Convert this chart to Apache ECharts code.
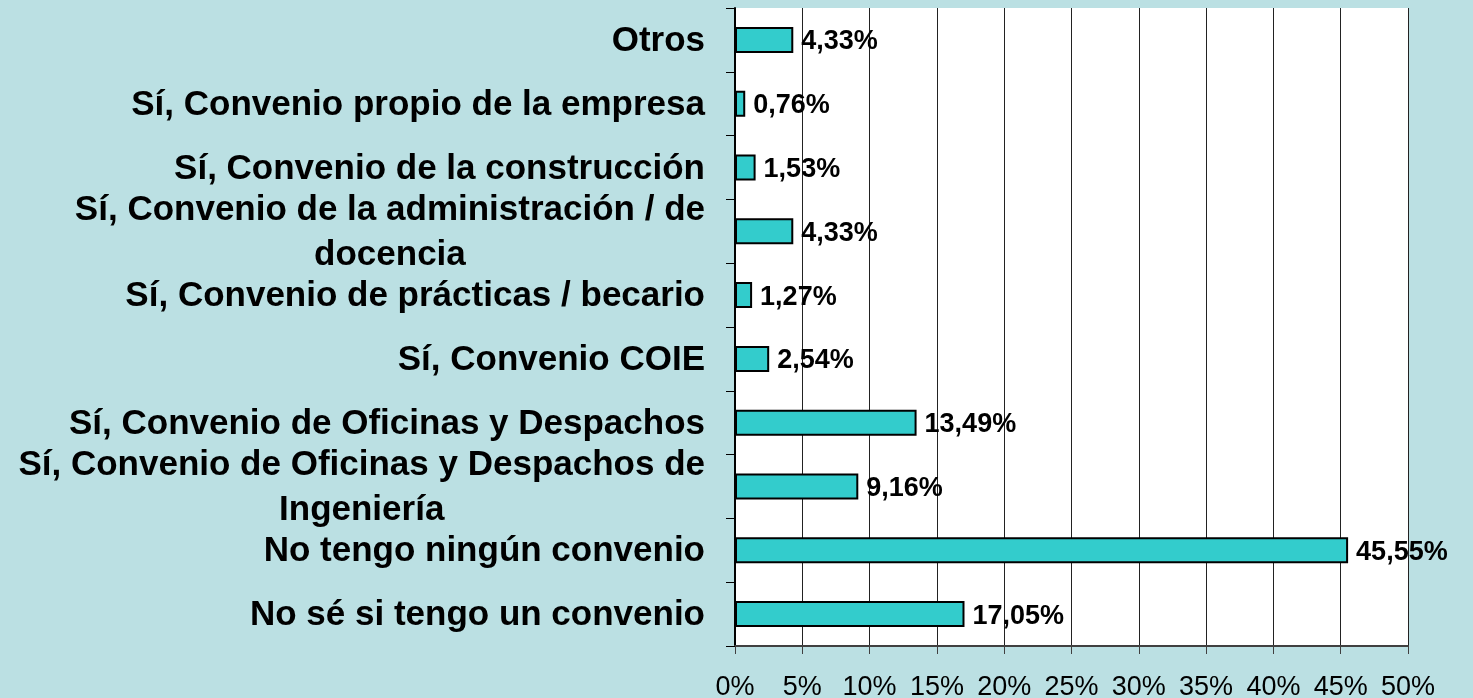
<!DOCTYPE html>
<html>
<head>
<meta charset="utf-8">
<script src="https://cdn.jsdelivr.net/npm/echarts@6/dist/echarts.min.js"></script>
<style>
  html, body { margin: 0; padding: 0; background: #bbe0e3; }
  #chart { width: 1473px; height: 698px; }
</style>
</head>
<body>
<div id="chart"></div>
<script>
// categorias de abajo hacia arriba (eje de categorias de ECharts)
const categories = [
    'No sé si tengo un convenio',
    'No tengo ningún convenio',
    'Sí, Convenio de Oficinas y Despachos de\nIngeniería',
    'Sí, Convenio de Oficinas y Despachos',
    'Sí, Convenio COIE',
    'Sí, Convenio de prácticas / becario',
    'Sí, Convenio de la administración / de\ndocencia',
    'Sí, Convenio de la construcción',
    'Sí, Convenio propio de la empresa',
    'Otros'
];
const percentages = [17.05, 45.55, 9.16, 13.49, 2.54, 1.27, 4.33, 1.53, 0.76, 4.33];
const xTicks = [0, 5, 10, 15, 20, 25, 30, 35, 40, 45, 50];

const font = 'Liberation Sans, Arial, sans-serif';
const chart = echarts.init(document.getElementById('chart'));

const option = {
    backgroundColor: '#bbe0e3',
    animation: false,
    grid: {
        left: 735, right: 65, top: 8, bottom: 52,
        outerBoundsMode: 'none',
        show: true, backgroundColor: '#ffffff', borderWidth: 0
    },
    xAxis: {
        type: 'value',
        min: xTicks[0],
        max: xTicks[xTicks.length - 1],
        interval: 5,
        axisLine: { show: true, lineStyle: { color: '#404040', width: 2 } },
        axisTick: { show: true, length: 8, lineStyle: { color: '#404040', width: 1 } },
        axisLabel: {
            formatter: v => v + '%',
            color: '#000', fontFamily: font, fontSize: 27, margin: 28
        },
        splitLine: { show: true, lineStyle: { color: '#222', width: 1 } }
    },
    yAxis: {
        type: 'category',
        data: categories,
        axisLine: { show: true, lineStyle: { color: '#000', width: 2 } },
        axisTick: { show: true, length: 9, lineStyle: { color: '#000', width: 1 } },
        axisLabel: {
            margin: 30,
            formatter: v => v.split('\n').map(l => '{c|' + l + '}').join('\n'),
            rich: {
                c: {
                    align: 'center',
                    color: '#000', fontFamily: font, fontSize: 35,
                    fontWeight: 'bold', lineHeight: 45, padding: [3, 0, 0, 0]
                }
            }
        }
    },
    series: [{
        type: 'bar',
        data: percentages,
        barWidth: 26,
        itemStyle: { color: '#33cccc', borderColor: '#000', borderWidth: 2 },
        label: {
            show: true,
            position: 'right',
            distance: 8,
            offset: [0, 2],
            formatter: p => p.value.toFixed(2).replace('.', ',') + '%',
            color: '#000', fontFamily: font, fontSize: 27, fontWeight: 'bold'
        }
    }]
};
chart.setOption(option);
</script>
</body>
</html>
